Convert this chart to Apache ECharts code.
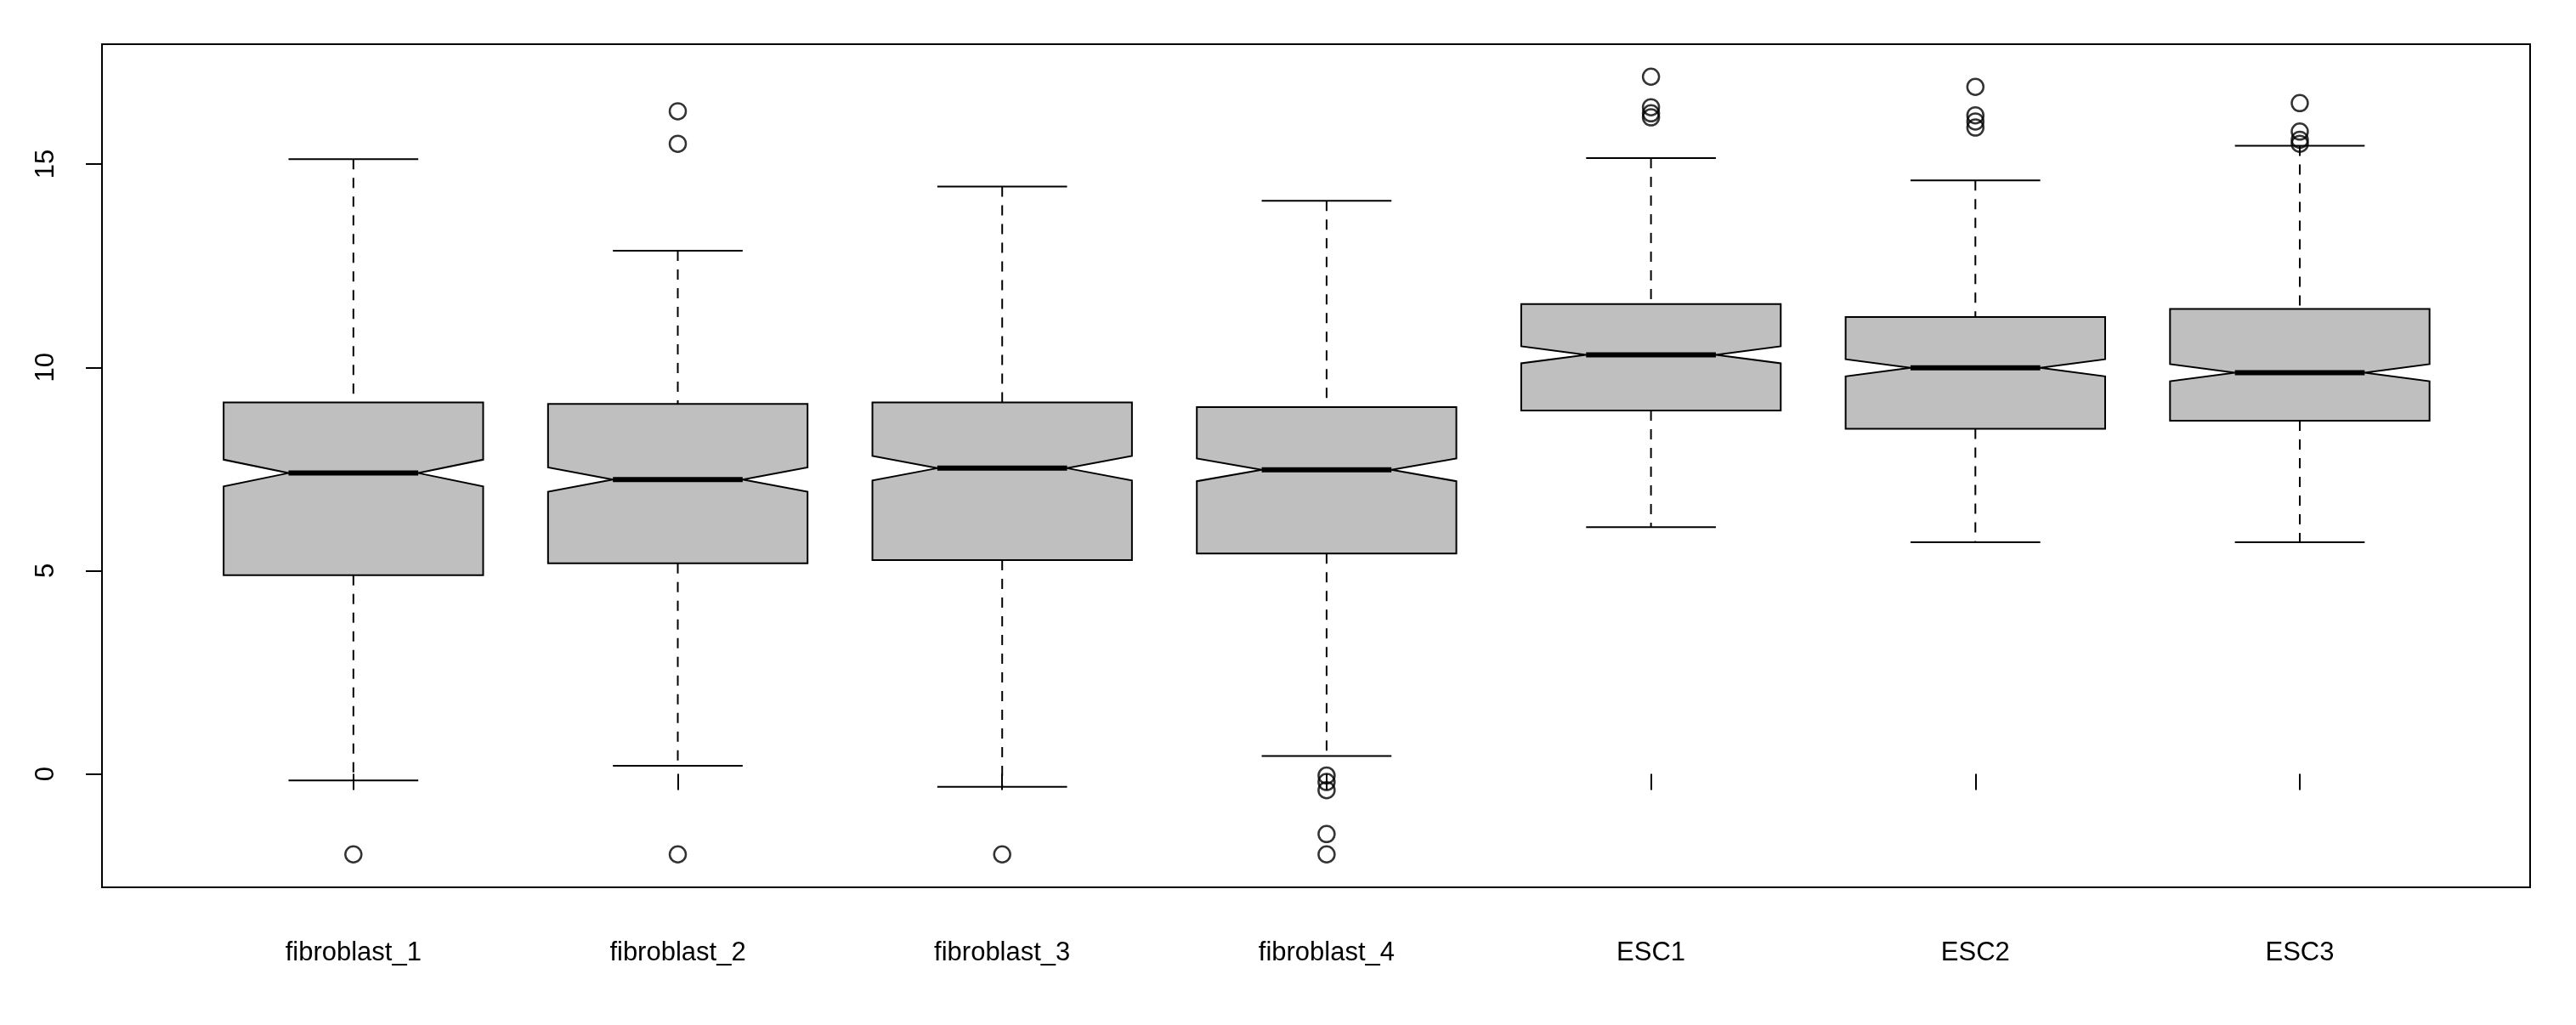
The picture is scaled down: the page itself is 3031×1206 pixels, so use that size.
<!DOCTYPE html>
<html>
<head>
<meta charset="utf-8">
<script src="https://cdn.jsdelivr.net/npm/echarts@6/dist/echarts.min.js"></script>
<style>html,body{margin:0;padding:0;background:#fff}#chart{width:3031px;height:1206px}</style>
</head>
<body>
<div id="chart"></div>
<script>
// sample names and five-number summaries
const categories = ['fibroblast_1', 'fibroblast_2', 'fibroblast_3', 'fibroblast_4', 'ESC1', 'ESC2', 'ESC3'];
const lowerWhisker = [-0.16, 0.20, -0.32, 0.44, 6.07, 5.70, 5.70];
const q1 = [4.89, 5.18, 5.26, 5.42, 8.94, 8.49, 8.69];
const median = [7.40, 7.24, 7.52, 7.48, 10.31, 9.99, 9.87];
const q3 = [9.14, 9.10, 9.14, 9.02, 11.56, 11.24, 11.44];
const upperWhisker = [15.12, 12.87, 14.45, 14.10, 15.15, 14.60, 15.45];
const notch = [0.33, 0.30, 0.30, 0.28, 0.21, 0.21, 0.21];
const outliers = [
  [1, -1.98],
  [2, 16.30], [2, 15.50], [2, -1.98],
  [3, -1.98],
  [4, -0.04], [4, -0.20], [4, -0.40], [4, -1.48], [4, -1.98],
  [5, 17.15], [5, 16.40], [5, 16.25], [5, 16.15],
  [6, 16.90], [6, 16.20], [6, 16.05], [6, 15.90],
  [7, 16.50], [7, 15.80], [7, 15.60], [7, 15.50]
];
const yTicks = [0, 5, 10, 15];

let chartDom = document.querySelector('#chart');
let chart = echarts.init(chartDom);

let boxData = categories.map(function (c, i) {
  return [i + 1, lowerWhisker[i], q1[i], median[i], q3[i], upperWhisker[i], notch[i]];
});

function renderBox(params, api) {
  let x = api.value(0);
  let lo = api.value(1), a = api.value(2), m = api.value(3), b = api.value(4), hi = api.value(5), n = api.value(6);
  let hw = 0.4, iw = 0.2, cap = 0.2;
  let P = function (dx, y) { return api.coord([x + dx, y]); };
  let line = { stroke: '#000', lineWidth: 2 };
  let dash = { stroke: '#000', lineWidth: 2, lineDash: [12, 10] };
  return {
    type: 'group',
    children: [
      { type: 'line', shape: { x1: P(0, hi)[0], y1: P(0, hi)[1], x2: P(0, b)[0], y2: P(0, b)[1] }, style: dash },
      { type: 'line', shape: { x1: P(0, a)[0], y1: P(0, a)[1], x2: P(0, lo)[0], y2: P(0, lo)[1] }, style: dash },
      { type: 'line', shape: { x1: P(-cap, hi)[0], y1: P(-cap, hi)[1], x2: P(cap, hi)[0], y2: P(cap, hi)[1] }, style: line },
      { type: 'line', shape: { x1: P(-cap, lo)[0], y1: P(-cap, lo)[1], x2: P(cap, lo)[0], y2: P(cap, lo)[1] }, style: line },
      {
        type: 'polygon',
        shape: {
          points: [
            P(-hw, b), P(hw, b), P(hw, m + n), P(iw, m), P(hw, m - n),
            P(hw, a), P(-hw, a), P(-hw, m - n), P(-iw, m), P(-hw, m + n)
          ]
        },
        style: { fill: '#bfbfbf', stroke: '#000', lineWidth: 2 }
      },
      { type: 'line', shape: { x1: P(-iw, m)[0], y1: P(-iw, m)[1], x2: P(iw, m)[0], y2: P(iw, m)[1] }, style: { stroke: '#000', lineWidth: 6 } }
    ]
  };
}

let option = {
  animation: false,
  backgroundColor: '#fff',
  grid: { left: 120, right: 54, top: 52, bottom: 162, show: true, borderColor: '#000', borderWidth: 2 },
  xAxis: {
    type: 'value', min: 0.225, max: 7.71,
    axisLine: { show: false },
    splitLine: { show: false },
    axisTick: { show: true, customValues: [1, 2, 3, 4, 5, 6, 7], length: 19, lineStyle: { color: '#000', width: 2 } },
    axisLabel: {
      customValues: [1, 2, 3, 4, 5, 6, 7], margin: 62,
      fontFamily: 'Liberation Sans, Arial', fontSize: 31, color: '#000',
      formatter: function (v) { return categories[Math.round(v) - 1]; }
    }
  },
  yAxis: {
    type: 'value', min: -2.79, max: 17.95,
    axisLine: { show: false },
    splitLine: { show: false },
    axisTick: { show: true, customValues: yTicks, length: 19, lineStyle: { color: '#000', width: 2 } },
    axisLabel: {
      customValues: yTicks, rotate: 90, margin: 50,
      fontFamily: 'Liberation Sans, Arial', fontSize: 31, color: '#000'
    }
  },
  series: [
    { type: 'custom', renderItem: renderBox, data: boxData, z: 2 },
    {
      type: 'scatter', data: outliers, symbol: 'circle', symbolSize: 19, z: 3,
      itemStyle: { color: 'rgba(0,0,0,0)', borderColor: '#000', borderWidth: 2.5 }
    }
  ]
};

chart.setOption(option);
</script>
</body>
</html>
